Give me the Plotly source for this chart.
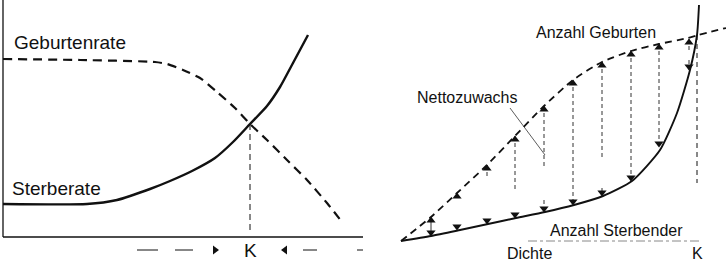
import plotly.graph_objects as go

# ---------------- Left panel data ----------------
birth_rate_x = [0, 77, 152, 164, 180, 197, 214, 232, 247, 264, 284, 304, 324, 339]
birth_rate_y = [178, 177, 175, 173, 167, 159, 145, 129, 113, 97, 77, 57, 34, 15]
death_rate_x = [0, 84, 114, 147, 167, 189, 212, 230, 247, 264, 277, 290, 305]
death_rate_y = [33, 33, 37, 48, 56, 66, 79, 95, 113, 131, 150, 174, 202]
K_left = 247
K_left_rate = 113

# ---------------- Right panel data ----------------
births_x = [0, 30, 56, 86, 114, 143, 172, 201, 230, 258, 287, 297, 325]
births_y = [0, 24, 48, 76, 105, 135, 161, 179, 190, 197, 203, 206, 213]
deaths_x = [0, 30, 59, 87, 115, 144, 173, 202, 231, 259, 276, 289, 296, 298]
deaths_y = [0, 5, 11, 17, 23, 29, 36, 45, 60, 91, 128, 171, 206, 236]
K_right = 296
K_right_val = 206

arrow_x = [30, 56, 86, 114, 143, 172, 201, 230, 258, 288]
arrow_top = [24, 48, 76, 105, 135, 161, 179, 190, 197, 202]
arrow_bot = [5, 11, 17, 23, 29, 36, 45, 60, 94, 171]
# dashed parts of each column: (upper segment end, lower segment start); None = no segment
arrow_upper_end = [5, None, 64, 49, 74, 36, 81, 60, 94, 189]
arrow_lower_start = [None, None, None, None, 41, None, 53, None, None, 181]

FONT = "Liberation Sans, Arial, sans-serif"
INK = "#111111"

fig = go.Figure()

# ---- left panel axes
fig.add_trace(go.Scatter(x=[0, 0], y=[0, 237], mode="lines",
                         line=dict(color=INK, width=1.3), xaxis="x", yaxis="y"))
fig.add_trace(go.Scatter(x=[0, 360], y=[0, 0], mode="lines",
                         line=dict(color=INK, width=1.3), xaxis="x", yaxis="y"))
# birth rate (dashed)
fig.add_trace(go.Scatter(x=birth_rate_x, y=birth_rate_y, mode="lines",
                         line=dict(color=INK, width=2.2, dash="9px,6px", shape="spline", smoothing=0.6),
                         xaxis="x", yaxis="y"))
# death rate (solid)
fig.add_trace(go.Scatter(x=death_rate_x, y=death_rate_y, mode="lines",
                         line=dict(color=INK, width=2.4, shape="spline", smoothing=0.6),
                         xaxis="x", yaxis="y"))
# K drop line
fig.add_trace(go.Scatter(x=[K_left, K_left], y=[K_left_rate, 4], mode="lines",
                         line=dict(color=INK, width=1, dash="6px,4px"), xaxis="x", yaxis="y"))
# arrow row under axis
row_y = -13
for x0, x1 in [(134, 155), (172, 190), (300, 314), (354, 360)]:
    fig.add_trace(go.Scatter(x=[x0, x1], y=[row_y, row_y], mode="lines",
                             line=dict(color=INK, width=1), xaxis="x", yaxis="y"))
fig.add_trace(go.Scatter(x=[212], y=[row_y], mode="markers",
                         marker=dict(symbol="triangle-right", size=8, color=INK), xaxis="x", yaxis="y"))
fig.add_trace(go.Scatter(x=[282], y=[row_y], mode="markers",
                         marker=dict(symbol="triangle-left", size=8, color=INK), xaxis="x", yaxis="y"))

# ---- right panel
fig.add_trace(go.Scatter(x=[127, 299], y=[0, 0], mode="lines",
                         line=dict(color="#888888", width=1, dash="dashdot"), xaxis="x2", yaxis="y2"))
fig.add_trace(go.Scatter(x=births_x, y=births_y, mode="lines",
                         line=dict(color=INK, width=1.8, dash="7px,5px", shape="spline", smoothing=0.6),
                         xaxis="x2", yaxis="y2"))
fig.add_trace(go.Scatter(x=deaths_x, y=deaths_y, mode="lines",
                         line=dict(color=INK, width=1.9, shape="spline", smoothing=0.6),
                         xaxis="x2", yaxis="y2"))
fig.add_trace(go.Scatter(x=[K_right, K_right], y=[K_right_val, 58], mode="lines",
                         line=dict(color=INK, width=1, dash="5px,4px"), xaxis="x2", yaxis="y2"))

for i, ax in enumerate(arrow_x):
    up_end = arrow_upper_end[i]
    lo_start = arrow_lower_start[i]
    if up_end is not None:
        fig.add_trace(go.Scatter(x=[ax, ax], y=[arrow_top[i], up_end], mode="lines",
                                 line=dict(color="#333333", width=1, dash="4px,3px" if i else "solid"),
                                 xaxis="x2", yaxis="y2"))
    if lo_start is not None:
        fig.add_trace(go.Scatter(x=[ax, ax], y=[lo_start, arrow_bot[i]], mode="lines",
                                 line=dict(color="#333333", width=1, dash="4px,3px"),
                                 xaxis="x2", yaxis="y2"))
fig.add_trace(go.Scatter(x=arrow_x, y=[t - 3.5 for t in arrow_top], mode="markers",
                         marker=dict(symbol="triangle-up", size=8, color=INK), xaxis="x2", yaxis="y2"))
fig.add_trace(go.Scatter(x=arrow_x, y=[b + 3.5 for b in arrow_bot], mode="markers",
                         marker=dict(symbol="triangle-down", size=8, color=INK), xaxis="x2", yaxis="y2"))

# Nettozuwachs pointer
fig.add_trace(go.Scatter(x=[109, 144], y=[133, 86], mode="lines",
                         line=dict(color="#333333", width=0.8), xaxis="x2", yaxis="y2"))

annotations = [
    dict(text="Geburtenrate", x=9, y=195, xref="x", yref="y", xanchor="left", yanchor="middle", size=19),
    dict(text="Sterberate", x=7, y=49, xref="x", yref="y", xanchor="left", yanchor="middle", size=19),
    dict(text="K", x=K_left, y=-13, xref="x", yref="y", xanchor="center", yanchor="middle", size=19),
    dict(text="Anzahl Geburten", x=195, y=209, xref="x2", yref="y2", xanchor="center", yanchor="middle", size=16),
    dict(text="Nettozuwachs", x=66, y=144, xref="x2", yref="y2", xanchor="center", yanchor="middle", size=16),
    dict(text="Anzahl Sterbender", x=215, y=11, xref="x2", yref="y2", xanchor="center", yanchor="middle", size=16),
    dict(text="Dichte", x=128, y=-12, xref="x2", yref="y2", xanchor="center", yanchor="middle", size=16),
    dict(text="K", x=K_right, y=-12, xref="x2", yref="y2", xanchor="center", yanchor="middle", size=16),
]
ann_objs = []
for a in annotations:
    size = a.pop("size")
    ann_objs.append(dict(**a, showarrow=False, font=dict(family=FONT, size=size, color=INK)))

hidden = dict(visible=False, showgrid=False, zeroline=False, fixedrange=True)
fig.update_layout(
    width=726, height=263,
    margin=dict(l=0, r=0, t=0, b=0),
    paper_bgcolor="white", plot_bgcolor="white",
    showlegend=False,
    xaxis=dict(domain=[0, 0.5], range=[-3, 360], **hidden),
    yaxis=dict(domain=[0, 1], range=[-26, 237], **hidden),
    xaxis2=dict(domain=[0.5, 1], range=[-38, 325], anchor="y2", **hidden),
    yaxis2=dict(domain=[0, 1], range=[-22, 241], anchor="x2", **hidden),
    annotations=ann_objs,
)

fig.write_html("out.html")
